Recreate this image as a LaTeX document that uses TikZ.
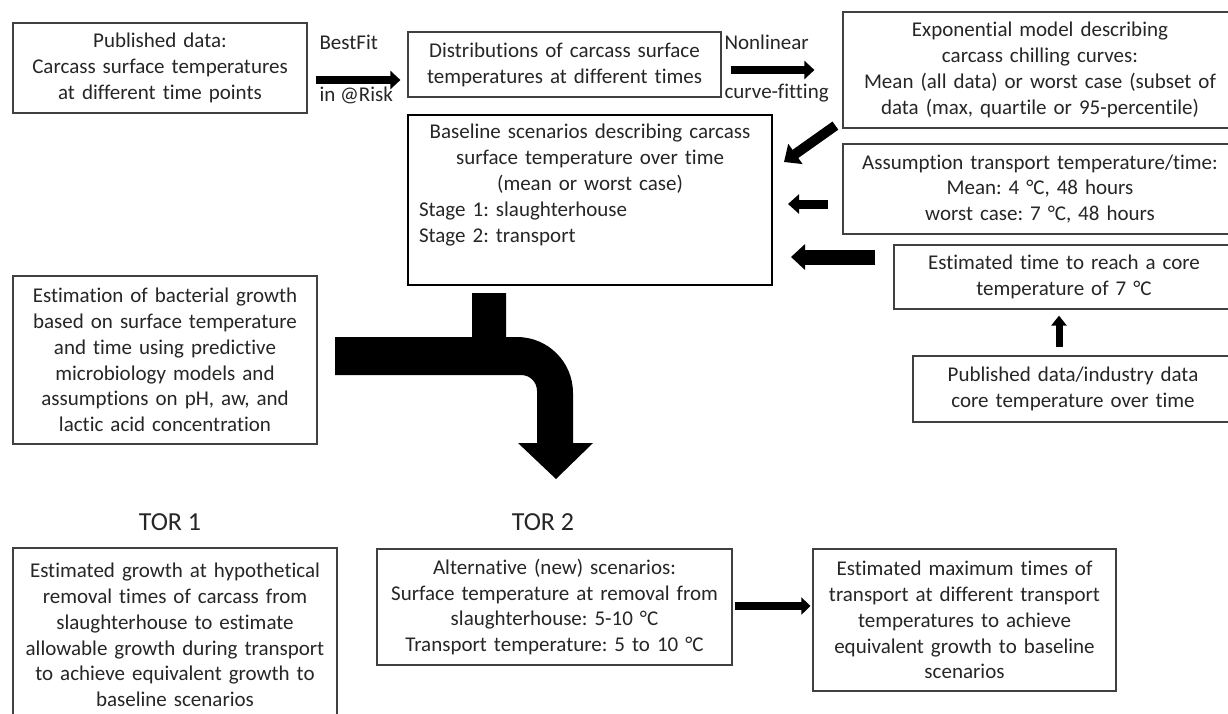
\documentclass[tikz,border=0pt]{standalone}
\usepackage{fontspec}
\setmainfont{Carlito}[Ligatures=CommonOff]
\usepackage{tikz}
\usetikzlibrary{calc,arrows.meta}
\frenchspacing
\definecolor{ink}{HTML}{262626}
\definecolor{frame}{HTML}{404040}
\tikzset{
  box/.style={draw=frame, line width=1.2pt, align=center, inner xsep=6pt, inner ysep=0pt,
    text=ink, font=\fontsize{21}{25.8}\selectfont},
  basebox/.style={box, draw=black, line width=2pt},
  flow/.style n args={3}{draw=black, line width=#1, -{Triangle[length=#2, width=#3]}},
  lab/.style={text=ink, anchor=west, font=\fontsize{21}{25.8}\selectfont},
  tor/.style={text=ink, font=\fontsize{26}{30}\selectfont}
}

\begin{document}
\begin{tikzpicture}[x=1pt, y=-1pt]
  \fill[white] (0,0) rectangle (1228,713);
  \useasboundingbox (0,0) rectangle (1228,713);

  \node[box, text width=282pt, minimum height=90pt] (pub) at (160,68)
    {Published data:\\ Carcass surface temperatures\\ at different time points};
  \node[box, text width=301pt, minimum height=65pt] (dist) at (564.5,64.5)
    {Distributions of carcass surface\\ temperatures at different times};
  \node[box, text width=382pt, minimum height=116pt] (expo) at (1040,70)
    {Exponential model describing\\ carcass chilling curves:\\ Mean (all data) or worst case (subset of\\ data (max, quartile or 95-percentile)};
  \node[basebox, text width=352pt, minimum height=170pt] (base) at (590,200)
    {Baseline scenarios describing carcass\\ surface temperature over time\\ (mean or worst case)\\
     \makebox[352pt][l]{\hspace{5pt}Stage 1: slaughterhouse}\\
     \makebox[352pt][l]{\hspace{5pt}Stage 2: transport}\\ \strut};
  \node[box, text width=382pt, minimum height=90pt] (assum) at (1040,189)
    {Assumption transport temperature/time:\\ Mean: 4 °C, 48 hours\\ worst case: 7 °C, 48 hours};
  \node[box, text width=328pt, minimum height=64pt] (core) at (1064,277)
    {Estimated time to reach a core\\ temperature of 7 °C};
  \node[box, text width=308pt, minimum height=66pt] (indus) at (1073,389)
    {Published data/industry data\\ core temperature over time};
  \node[box, text width=292pt, minimum height=168pt] (bact) at (165,360)
    {Estimation of bacterial growth\\ based on surface temperature\\ and time using predictive\\ microbiology models and\\ assumptions on pH, aw, and\\ lactic acid concentration};

  \node[tor] (tor1) at (170,522) {TOR 1};
  \node[tor] (tor2) at (543,522) {TOR 2};

  \node[box, text width=312pt, minimum height=174pt] (grow) at (175,635)
    {Estimated growth at hypothetical\\ removal times of carcass from\\ slaughterhouse to estimate\\ allowable growth during transport\\ to achieve equivalent growth to\\ baseline scenarios};
  \node[box, text width=343pt, minimum height=116pt] (alt) at (554.5,607)
    {Alternative (new) scenarios:\\ Surface temperature at removal from\\ slaughterhouse: 5-10 °C\\ Transport temperature: 5 to 10 °C};
  \node[box, text width=291pt, minimum height=142pt] (maxt) at (964.5,620)
    {Estimated maximum times of\\ transport at different transport\\ temperatures to achieve\\ equivalent growth to baseline\\ scenarios};

  \draw[flow={8pt}{10pt}{18pt}] ($(pub.east)+(8,12)$) -- ($(dist.west)+(-7,15.5)$);
  \node[lab] at (316,42) {BestFit};
  \node[lab] at (316,95) {in @Risk};
  \draw[flow={8pt}{10pt}{18pt}] ($(dist.east)+(9,5.5)$) -- ($(expo.west)+(-28,0)$);
  \node[lab] at (721,42) {Nonlinear};
  \node[lab] at (721,93) {curve-fitting};
  \draw[flow={10pt}{14pt}{24pt}] ($(expo.south west)+(-7,-3)$) -- ($(base.north east)+(11,48)$);
  \draw[flow={9pt}{11pt}{19pt}] ($(assum.west)+(-14,15)$) -- ($(base.east)+(15,4)$);
  \draw[flow={15pt}{14pt}{25pt}] ($(core.west)+(-18,-20)$) -- ($(base.east)+(18,57)$);
  \draw[flow={7pt}{10pt}{15pt}] ($(indus.north)+(-14,-8)$) -- ($(core.south)+(-5,6)$);
  \draw[flow={8pt}{9pt}{17pt}] ($(alt.east)+(2,-1)$) -- ($(maxt.west)+(-2,-14)$);

  \fill[black] (335,337) -- (472,337) -- (472,293) -- (506,293) -- (506,337) -- (517,337)
    .. controls (548,337) and (573,362) .. (573,393) -- (573,443) -- (593,443) -- (556,479)
    -- (518,443) -- (537,443) -- (537,391)
    .. controls (537,382) and (530,375) .. (521,375) -- (335,375) -- cycle;
\end{tikzpicture}
\end{document}
